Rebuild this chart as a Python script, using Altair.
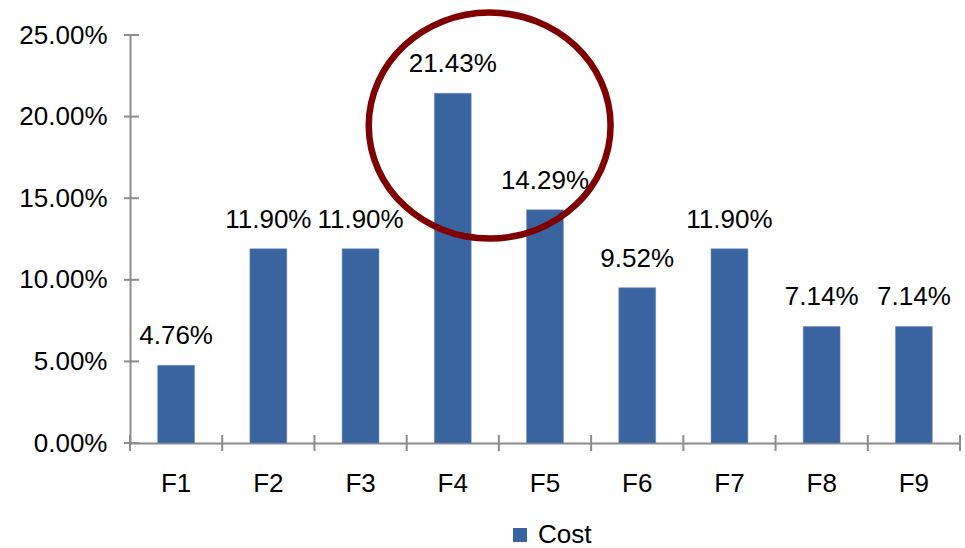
import altair as alt
import pandas as pd

# Share of cost per factor
categories = ["F1", "F2", "F3", "F4", "F5", "F6", "F7", "F8", "F9"]
cost = [0.0476, 0.1190, 0.1190, 0.2143, 0.1429, 0.0952, 0.1190, 0.0714, 0.0714]
series_name = "Cost"
y_tick_values = [0.0, 0.05, 0.10, 0.15, 0.20, 0.25]

# Highlight ring around the peak factor (anchored in data space)
highlight_category = ["F4"]
highlight_value = [0.1945]

BAR_BLUE = "#3A64A0"
AXIS_GREY = "#8C8C8C"
RING_RED = "#7F0000"
FONT = "Liberation Sans"

bars_df = pd.DataFrame({"factor": categories, "share": cost, "series": series_name})
ticks_df = pd.DataFrame({"share": y_tick_values})
ring_df = pd.DataFrame({"factor": highlight_category, "share": highlight_value})

x_scale = alt.Scale(domain=categories, paddingInner=0, paddingOuter=0)
y_scale = alt.Scale(domain=[0, 0.25], nice=False, zero=True)

x_axis = alt.Axis(
    title=None, labelAngle=0, ticks=False, tickSize=0, labelPadding=27,
    domainColor=AXIS_GREY, domainWidth=2, labelFontSize=26,
    labelFont=FONT, labelColor="black", grid=False,
)
y_axis = alt.Axis(
    title=None, values=y_tick_values, format=".2%", ticks=False, tickSize=0,
    labelPadding=23, domainColor=AXIS_GREY, domainWidth=2, labelFontSize=26,
    labelFont=FONT, labelColor="black", grid=False,
)

def x_enc(**kw):
    return alt.X("factor:N", scale=x_scale, sort=categories, axis=x_axis, **kw)

def y_enc():
    return alt.Y("share:Q", scale=y_scale, axis=y_axis)

bars = alt.Chart(bars_df).mark_bar(
    width=alt.RelativeBandSize(0.4), stroke="#6F8FC0", strokeWidth=0.5
).encode(
    x=x_enc(),
    y=y_enc(),
    color=alt.Color(
        "series:N",
        scale=alt.Scale(domain=[series_name], range=[BAR_BLUE]),
        legend=alt.Legend(
            title=None, orient="none", legendX=377, legendY=487,
            symbolType="square", symbolSize=196, symbolStrokeWidth=0,
            labelFontSize=26, labelFont=FONT, labelColor="black", labelOffset=5,
            padding=0,
        ),
    ),
)

value_labels = alt.Chart(bars_df).mark_text(
    baseline="bottom", dy=-16, fontSize=26, font=FONT, color="black"
).encode(
    x=x_enc(),
    y=y_enc(),
    text=alt.Text("share:Q", format=".2%"),
)

# Tick marks that cross the axis lines
y_ticks = alt.Chart(ticks_df).mark_rule(color=AXIS_GREY, strokeWidth=2).encode(
    y=y_enc(),
    x=alt.value(-6),
    x2=alt.value(9),
)

x_ticks_start = alt.Chart(bars_df).mark_rule(color=AXIS_GREY, strokeWidth=2).encode(
    x=x_enc(bandPosition=0),
    y=alt.value(400),
    y2=alt.value(416),
)

x_ticks_end = alt.Chart(bars_df).transform_filter(
    alt.datum.factor == categories[-1]
).mark_rule(color=AXIS_GREY, strokeWidth=2).encode(
    x=x_enc(bandPosition=1),
    y=alt.value(400),
    y2=alt.value(416),
)

# Elliptical ring: unit path, wider than tall
ellipse_path = "M -1.07,0 A 1.07,1 0 1,1 1.07,0 A 1.07,1 0 1,1 -1.07,0 Z"
ring = alt.Chart(ring_df).mark_point(
    shape=ellipse_path, size=226 * 226, filled=False, stroke=RING_RED,
    strokeWidth=6.5, opacity=1,
).encode(
    x=x_enc(bandPosition=0.9),
    y=y_enc(),
)

chart = alt.layer(bars, value_labels, y_ticks, x_ticks_start, x_ticks_end, ring).properties(
    width=830,
    height=408,
    autosize=alt.AutoSizeParams(type="none"),
    padding={"left": 130, "top": 35, "right": 5, "bottom": 105},
    background="white",
).configure_view(stroke=None)

chart.save("out.html", embed_options={"renderer": "svg", "actions": False})
